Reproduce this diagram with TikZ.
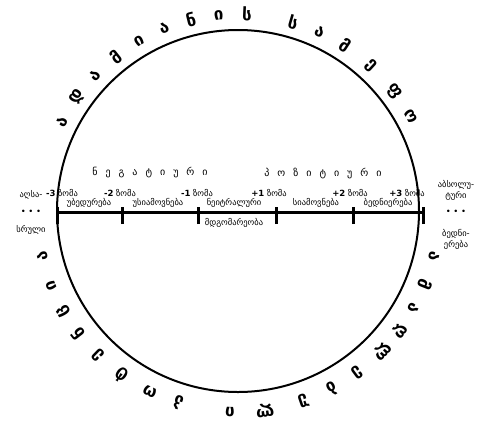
\documentclass[tikz,border=0pt]{standalone}
\usepackage{fontspec}
\setmainfont{DejaVu Sans}
\begin{document}
\begin{tikzpicture}[x=1pt,y=-1pt,
  circlet/.style={font=\fontsize{17}{19}\selectfont\bfseries, inner sep=0pt},
  lab/.style={font=\fontsize{8.5}{9}\selectfont, inner sep=0pt},
  head/.style={font=\fontsize{10}{11}\selectfont, inner sep=0pt},
  tickbar/.style={line width=3pt},
  axis/.style={line width=3pt}]
\useasboundingbox (0,0) rectangle (478,426);
\coordinate (c) at (238,211);
\draw[line width=2pt] (c) circle[radius=181];
% axis
\coordinate (t0) at (57,212);
\coordinate (t1) at (122,212);
\coordinate (t2) at (198,212);
\coordinate (t3) at (276,212);
\coordinate (t4) at (353,212);
\coordinate (t5) at (423,212);
\draw[axis] (t0) -- (t5);
\foreach \t in {t0,t1,t2,t3,t4,t5}
  \draw[tickbar] ([yshift=-12pt]\t) -- ([yshift=5pt]\t);
% headers
\node[head] (neg) at (150,173) {\spaceskip=8pt ნ ე გ ა ტ ი უ რ ი};
\node[head] (pos) at (323,173) {\spaceskip=8pt პ ო ზ ი ტ ი უ რ ი};
% tick labels
\node[lab] (l0) at (62,193) {\textbf{-3} ზომა};
\node[lab] (l1) at (120,193) {\textbf{-2} ზომა};
\node[lab] (l2) at (197,193) {\textbf{-1} ზომა};
\node[lab] (l3) at (269,193) {\textbf{+1} ზომა};
\node[lab] (l4) at (350,193) {\textbf{+2} ზომა};
\node[lab] (l5) at (407,193) {\textbf{+3} ზომა};
% segment labels
\node[lab] (s1) at (89,203) {უბედურება};
\node[lab] (s2) at (158,203) {უსიამოვნება};
\node[lab] (s3) at (234,203) {ნეიტრალური};
\node[lab] (s3b) at (234,223) {მდგომარეობა};
\node[lab] (s4) at (316,203) {სიამოვნება};
\node[lab] (s5) at (388,203) {ბედნიერება};
% outer labels
\node[lab] (a1) at (31,195) {აღსა-};
\node[lab] (a2) at (31,212) {\textbullet\ \textbullet\ \textbullet};
\node[lab] (a3) at (31,230) {სრული};
\node[lab] (b1) at (456,185) {აბსოლუ-};
\node[lab] (b2) at (456,196) {ტური};
\node[lab] (b3) at (456,212) {\textbullet\ \textbullet\ \textbullet};
\node[lab] (b4) at (456,234) {ბედნი-};
\node[lab] (b5) at (456,245) {ერება};
% circle text (tops outward, clockwise)
\begin{scope}[shift={(238,211)}, y=1pt]
\foreach \a/\l [count=\i] in {153/ა,144.8/დ,136.6/ა,128.4/მ,120.2/ი,112/ა,103.8/ნ,95.6/ი,87.4/ს,
   73.7/ს,65.6/ა,57/მ,47.6/ე,37.4/ფ,28.7/ო}
  \node[circlet, rotate=\a-90] (top\i) at (\a:197) {\l};
\foreach \a/\l [count=\i] in {347/ა,338.5/მ,331/ა,323.5/ღ,316/ლ,306.5/ე,297.8/ბ,289/უ,277.7/ლ,267.7/ი,
   252.7/პ,244/ო,234.7/ტ,226/ე,217.5/ნ,209.8/ც,202/ი,193/ა}
  \node[circlet, rotate=\a-90] (bot\i) at (\a:201) {\l};
\end{scope}
\end{tikzpicture}
\end{document}
